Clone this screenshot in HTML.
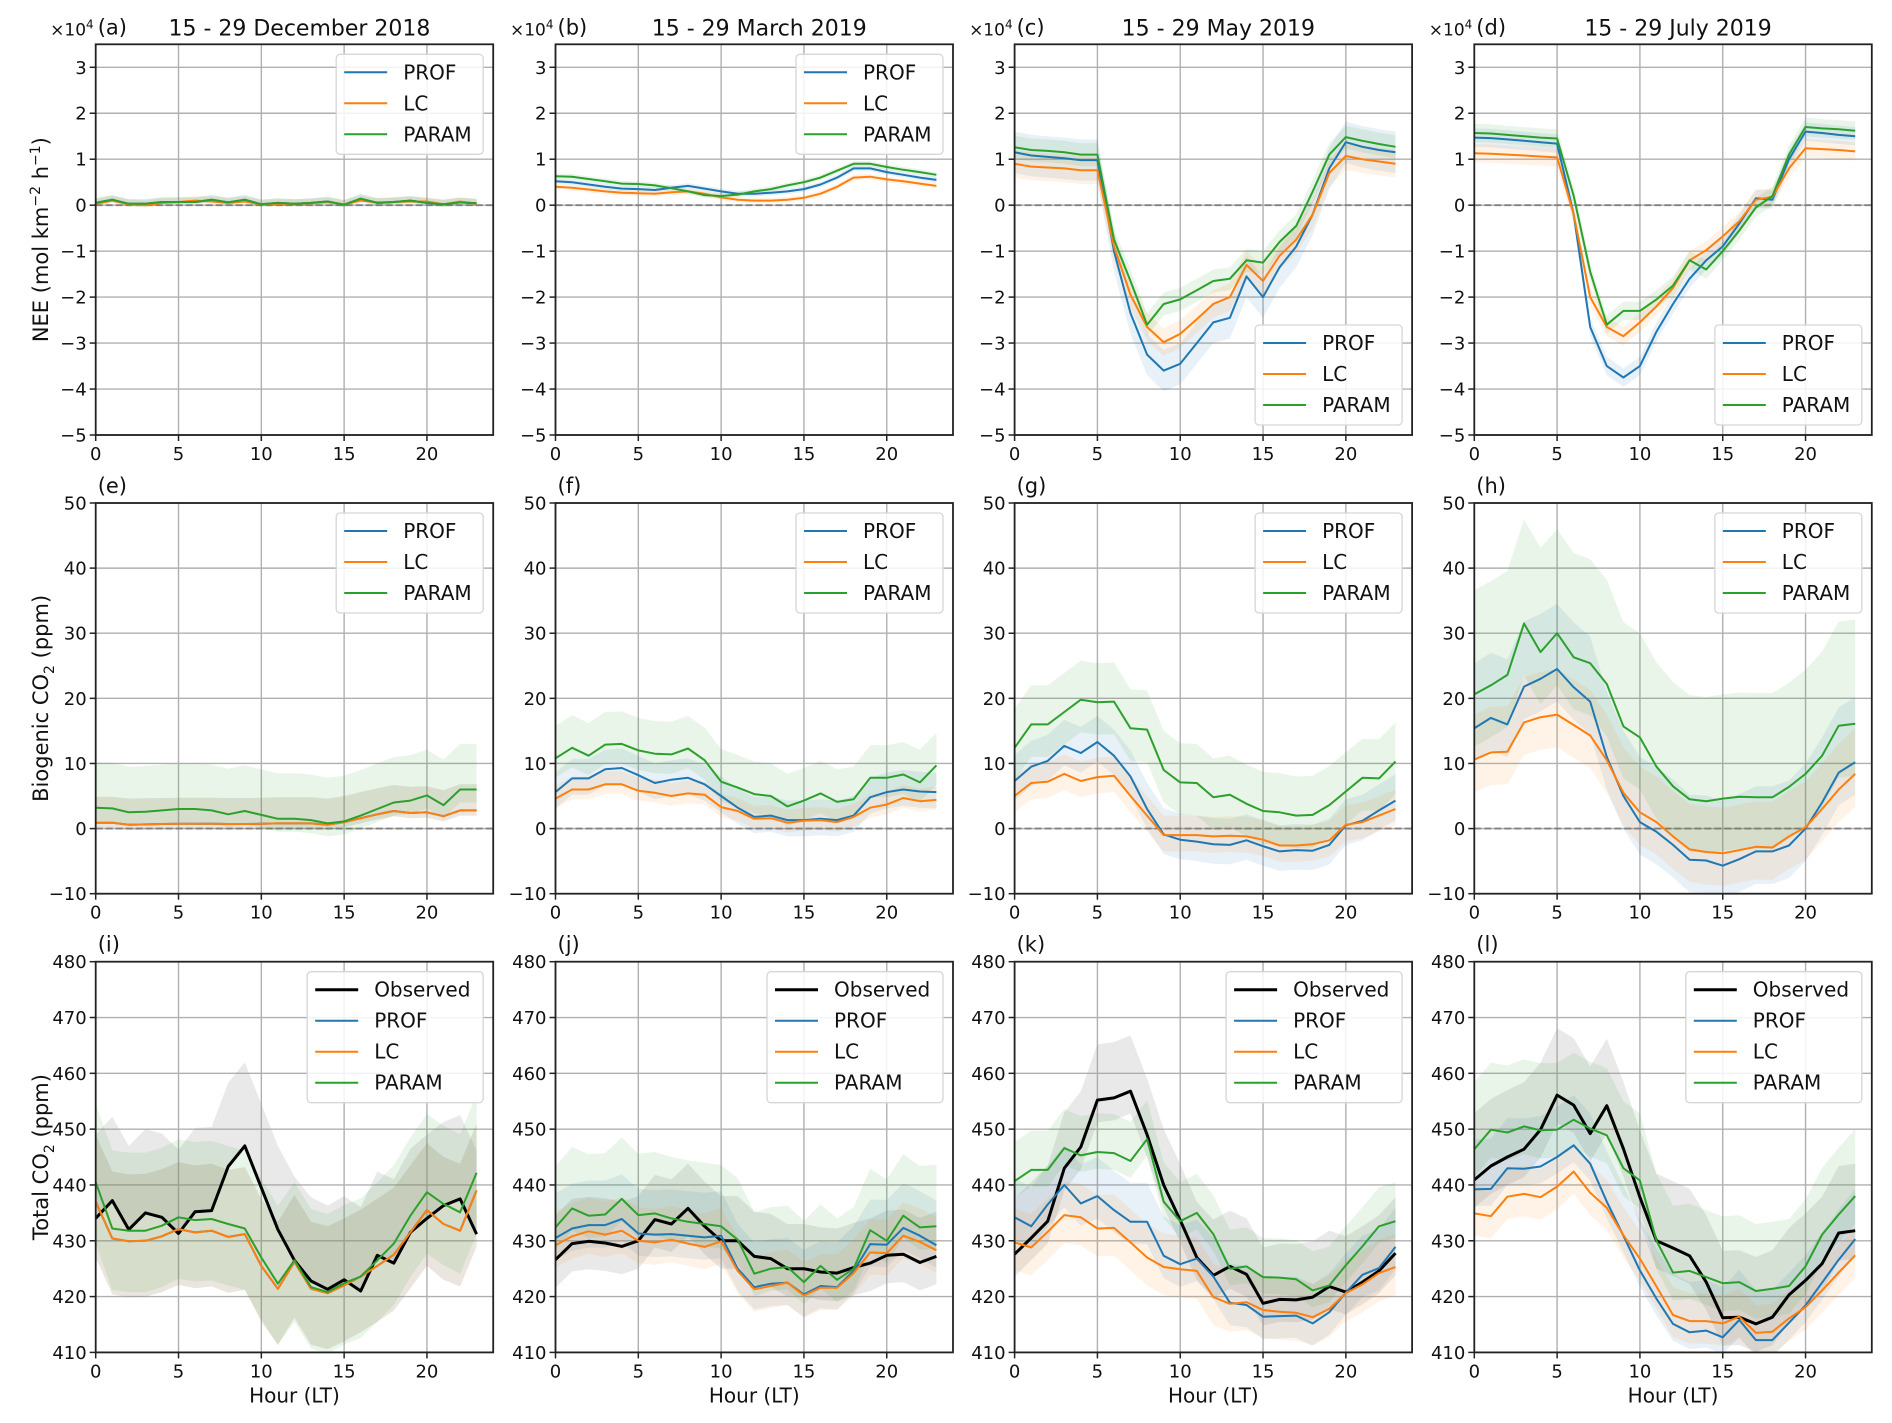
<!DOCTYPE html>
<html><head><meta charset="utf-8"><title>NEE and CO2 diurnal cycles</title>
<style>
html,body{margin:0;padding:0;background:#fff;}
svg{display:block;font-family:"DejaVu Sans","Liberation Sans",sans-serif;}
</style></head>
<body>
<svg id="fig" width="1892" height="1423" viewBox="0 0 1892 1423" xmlns="http://www.w3.org/2000/svg"></svg>
<script>
// ---------- DATA ----------
const hours = [0,1,2,3,4,5,6,7,8,9,10,11,12,13,14,15,16,17,18,19,20,21,22,23];
const panelLabels = ['(a)','(b)','(c)','(d)','(e)','(f)','(g)','(h)','(i)','(j)','(k)','(l)'];
const periodTitles = ['15 - 29 December 2018','15 - 29 March 2019','15 - 29 May 2019','15 - 29 July 2019'];
const seriesNames = ['Observed','PROF','LC','PARAM'];
const neeTicks = [3,2,1,0,-1,-2,-3,-4,-5];
const bioTicks = [50,40,30,20,10,0,-10];
const totTicks = [480,470,460,450,440,430,420,410];
const xTicks = [0,5,10,15,20];

// Row 1: NEE (x10^4 mol km-2 h-1)
const neeA_PROF  = [0.05,0.12,0.03,0.03,0.07,0.07,0.07,0.12,0.06,0.12,0.02,0.05,0.03,0.05,0.08,0.01,0.14,0.05,0.07,0.1,0.05,0.02,0.06,0.04];
const neeA_LC    = [0.03,0.1,0.02,0,0.05,0.07,0.1,0.08,0.05,0.08,0.02,0.03,0.03,0.04,0.07,0.02,0.1,0.06,0.07,0.08,0.08,0.02,0.08,0.03];
const neeA_PARAM = [0.05,0.12,0.03,0.03,0.07,0.07,0.07,0.12,0.06,0.12,0.02,0.05,0.03,0.05,0.08,0.01,0.14,0.05,0.07,0.1,0.05,0.02,0.06,0.04];
const neeB_PROF  = [0.52,0.5,0.45,0.4,0.36,0.35,0.33,0.38,0.42,0.36,0.3,0.25,0.25,0.27,0.3,0.35,0.45,0.6,0.8,0.8,0.72,0.66,0.6,0.55];
const neeB_LC    = [0.4,0.38,0.34,0.3,0.27,0.26,0.25,0.28,0.3,0.25,0.17,0.12,0.1,0.1,0.12,0.16,0.25,0.4,0.6,0.62,0.56,0.52,0.47,0.42];
const neeB_PARAM = [0.63,0.62,0.57,0.52,0.47,0.46,0.43,0.37,0.3,0.22,0.2,0.23,0.3,0.35,0.43,0.5,0.6,0.75,0.9,0.9,0.83,0.77,0.72,0.66];
const neeC_PROF  = [1.15,1.08,1.05,1.02,0.98,0.98,-1.0,-2.35,-3.25,-3.6,-3.45,-3.0,-2.55,-2.45,-1.55,-2.0,-1.35,-0.9,-0.2,0.8,1.37,1.27,1.2,1.15];
const neeC_LC    = [0.9,0.84,0.82,0.8,0.76,0.76,-0.9,-1.95,-2.65,-2.98,-2.8,-2.48,-2.15,-2.0,-1.3,-1.65,-1.1,-0.75,-0.2,0.7,1.07,1.0,0.95,0.9];
const neeC_PARAM = [1.26,1.2,1.18,1.15,1.1,1.1,-0.75,-1.65,-2.6,-2.15,-2.05,-1.85,-1.65,-1.6,-1.2,-1.25,-0.8,-0.45,0.3,1.1,1.48,1.4,1.33,1.27];
const neeD_PROF  = [1.47,1.46,1.43,1.4,1.37,1.34,-0.2,-2.65,-3.5,-3.75,-3.5,-2.75,-2.15,-1.6,-1.2,-0.9,-0.4,0.15,0.12,1.0,1.6,1.57,1.53,1.5];
const neeD_LC    = [1.13,1.12,1.1,1.08,1.06,1.04,-0.2,-2.0,-2.65,-2.85,-2.55,-2.2,-1.8,-1.2,-0.98,-0.68,-0.35,0.12,0.18,0.8,1.24,1.22,1.2,1.17];
const neeD_PARAM = [1.57,1.56,1.53,1.5,1.47,1.45,0.2,-1.45,-2.6,-2.3,-2.3,-2.05,-1.75,-1.2,-1.4,-1.0,-0.55,-0.05,0.2,1.1,1.7,1.67,1.65,1.62];

// Row 2: biogenic CO2 (ppm)
const bioE_PROF  = [0.9,0.9,0.6,0.65,0.7,0.75,0.75,0.75,0.7,0.7,0.75,0.8,0.8,0.8,0.6,1.0,1.6,2.2,2.7,2.4,2.5,1.9,2.8,2.8];
const bioE_LC    = [0.9,0.9,0.6,0.65,0.7,0.75,0.75,0.75,0.7,0.7,0.75,0.8,0.8,0.8,0.6,1.0,1.6,2.2,2.7,2.4,2.5,1.9,2.8,2.8];
const bioE_PARAM = [3.2,3.1,2.5,2.6,2.8,3.0,3.0,2.8,2.2,2.7,2.1,1.5,1.5,1.3,0.8,1.1,2.0,3.0,4.0,4.3,5.1,3.6,6.0,6.0];
const bioF_PROF  = [5.6,7.7,7.7,9.1,9.3,8.2,7.0,7.5,7.8,6.8,5.0,3.2,1.8,2.0,1.3,1.3,1.5,1.3,2.0,4.8,5.6,6.0,5.7,5.6];
const bioF_LC    = [4.6,6.0,6.0,6.8,6.8,5.8,5.5,5.0,5.4,5.2,3.3,2.7,1.5,1.6,0.9,1.2,1.3,1.0,1.8,3.2,3.7,4.7,4.2,4.4];
const bioF_PARAM = [10.8,12.4,11.2,12.9,13.0,12.0,11.5,11.4,12.3,10.5,7.2,6.3,5.3,5.0,3.4,4.3,5.4,4.1,4.5,7.8,7.8,8.3,7.1,9.7];
const bioG_PROF  = [7.3,9.5,10.4,12.7,11.6,13.3,11.2,8.0,3.0,-0.9,-1.7,-2.0,-2.4,-2.5,-1.8,-2.7,-3.5,-3.3,-3.4,-2.5,0.5,1.2,2.8,4.3];
const bioG_LC    = [5.0,7.0,7.2,8.4,7.3,7.9,8.1,5.0,2.0,-1.0,-1.0,-1.0,-1.2,-1.1,-1.2,-1.7,-2.6,-2.6,-2.4,-1.8,0.6,1.0,2.0,3.0];
const bioG_PARAM = [12.4,16.0,16.0,17.9,19.8,19.4,19.5,15.4,15.2,9.0,7.1,7.0,4.8,5.2,3.8,2.7,2.5,2.0,2.1,3.6,5.7,7.8,7.7,10.3];
const bioH_PROF  = [15.4,17.0,16.0,21.8,23.0,24.5,21.7,19.5,11.0,5.0,1.0,-0.5,-2.5,-4.8,-4.9,-5.7,-4.7,-3.5,-3.5,-2.6,0.0,4.0,8.6,10.2];
const bioH_LC    = [10.6,11.7,11.8,16.3,17.1,17.5,15.9,14.3,10.5,5.5,2.5,1.0,-1.2,-3.2,-3.6,-3.8,-3.3,-2.8,-2.9,-1.2,0.2,3.0,6.0,8.4];
const bioH_PARAM = [20.6,22.0,23.6,31.5,27.1,30.0,26.3,25.4,22.2,15.7,14.0,9.5,6.5,4.5,4.2,4.6,4.9,4.8,4.8,6.4,8.4,11.2,15.8,16.1];

// Row 3: total CO2 (ppm)
const totI_OBS   = [434,437.2,432,435,434.2,431.3,435.2,435.4,443.3,447,439.5,432,426.5,422.8,421.3,423,421,427.4,426,431.5,434,436.3,437.5,431.2];
const totI_PROF  = [437,430.4,429.9,430,430.8,432.1,431.5,431.8,430.7,431.2,425.5,421.4,426.2,421.4,420.6,422,423.6,425.5,427.5,431.5,435.5,433,431.8,439];
const totI_LC    = [437,430.4,429.9,430,430.8,432.1,431.5,431.8,430.7,431.2,425.5,421.4,426.2,421.4,420.6,422,423.6,425.5,427.5,431.5,435.5,433,431.8,439];
const totI_PARAM = [440.5,432.2,431.8,431.8,432.7,434.2,433.7,433.9,433,432.2,427,422.3,426.5,421.7,420.8,422.4,423.6,426.5,429.5,434.5,438.7,436.6,435.1,442.2];
const totJ_OBS   = [426.6,429.5,429.9,429.6,429,430,433.8,433,435.8,432.6,430,430,427.2,426.8,425,425,424.4,424.2,425.2,426,427.4,427.6,426.1,427.2];
const totJ_PROF  = [430.5,432.2,432.8,432.8,433.9,431.3,431.1,431.2,430.9,430.6,430.9,425,421.7,422.3,422.5,420.4,421.9,421.7,424.6,429.4,429.3,432.3,430.9,429.2];
const totJ_LC    = [429.2,430.8,431.7,431.1,431.8,430,429.7,430.2,429.5,428.9,429.9,424.6,421.3,421.9,422.5,420.2,421.6,421.6,424.2,427.9,427.8,430.9,429.8,428.3];
const totJ_PARAM = [432.4,435.8,434.5,434.7,437.5,434.6,434.9,434,433.4,433,432.6,430.2,424.1,425,425.3,422.6,425.5,423,425,431.9,430,434.5,432.4,432.6];
const totK_OBS   = [427.6,430.5,433.5,443,446.8,455.2,455.6,456.8,449,440,433.7,427,423.8,425.4,424,418.8,419.5,419.4,419.9,421.8,420.8,422.6,424.6,427.8];
const totK_PROF  = [434.2,432.6,436.5,440,436.7,438,435.5,433.4,433.4,427.3,425.8,426.8,423.6,418.9,418.5,416.4,416.5,416.6,415.2,417.2,420.7,423.9,425.1,428.9];
const totK_LC    = [429.7,428.8,431.6,434.6,434.2,432.2,432.3,429.7,427,425.3,424.9,424.6,419.9,418.7,419,417.6,417.3,417.1,416.3,417.8,420.6,422.2,424.2,425.3];
const totK_PARAM = [440.7,442.7,442.7,446.6,445.3,445.9,445.7,444.3,448.2,437,433.5,435,431.2,425,425.4,423.5,423.4,423.1,421.1,422,425.6,429,432.6,433.5];
const totL_OBS   = [440.9,443.4,445,446.4,449.9,456.1,454.3,449.2,454.2,446.5,437.8,430,428.7,427.3,422.6,416.2,416.3,415.1,416.3,420.3,422.9,425.9,431.4,431.8];
const totL_PROF  = [439.2,439.3,443,442.9,443.3,445,447.1,443.8,437,430.9,424.7,419.6,415.1,413.6,413.9,412.7,415.8,412.2,412.2,415.3,418.4,422.5,426.6,430.3];
const totL_LC    = [434.9,434.4,437.9,438.4,437.8,439.7,442.4,438.6,435.9,431,426.8,421.8,416.7,415.6,415.6,415.2,416.4,413.5,413.7,416.1,418.1,421.1,424.3,427.4];
const totL_PARAM = [446.4,449.9,449.4,450.5,449.8,449.9,451.7,450.1,448.9,443,440.8,430,424.3,424.6,423.5,422.4,422.6,421,421.4,421.9,425.4,431.1,434.7,438];

// Band half-widths per panel: [Observed, PROF, LC, PARAM] (lower, upper)
const spreadLoA = [0,0.05,0.05,0.05], spreadHiA = [0,0.1,0.1,0.1];
const spreadLoB = [0,0.06,0.06,0.06], spreadHiB = [0,0.06,0.06,0.06];
const spreadLoC = [0,0.45,0.3,0.25], spreadHiC = [0,0.45,0.3,0.25];
const spreadLoD = [0,0.2,0.2,0.2], spreadHiD = [0,0.2,0.2,0.2];
const spreadLoE = [0,0.8,0.8,2], spreadHiE = [0,4,4,7];
const spreadLoF = [0,2.5,1.5,3], spreadHiF = [0,3,2,5];
const spreadLoG = [0,3,2.5,5], spreadHiG = [0,4,3,6];
const spreadLoH = [0,5,5,8], spreadHiH = [0,10,7,16];
const spreadLoI = [0,10,10,11], spreadHiI = [15,12,12,14];
const spreadLoJ = [5,4,4,4], spreadHiJ = [8,8,6,11];
const spreadLoK = [4,4,5,3], spreadHiK = [10,7,6,7];
const spreadLoL = [5,3,4,5], spreadHiL = [12,9,5,12];

// ---------- LAYOUT ----------
const svg = document.getElementById('fig');
const NS = 'http://www.w3.org/2000/svg';
const colLeft = [95.7,555.5,1014.6,1474.3];
const rowTop = [44.3,503,961.7];
const PW = 397.5, PH = 390.7;
const COLORS = {Observed:'#000000',PROF:'#1f77b4',LC:'#ff7f0e',PARAM:'#2ca02c'};

function el(tag, attrs, parent){
  const e = document.createElementNS(NS, tag);
  for (const k in attrs) e.setAttribute(k, attrs[k]);
  (parent||svg).appendChild(e);
  return e;
}

const panels = [
  {row:0,col:0,series:{PROF:neeA_PROF,LC:neeA_LC,PARAM:neeA_PARAM},lo:spreadLoA,hi:spreadHiA,legend:'tr'},
  {row:0,col:1,series:{PROF:neeB_PROF,LC:neeB_LC,PARAM:neeB_PARAM},lo:spreadLoB,hi:spreadHiB,legend:'tr'},
  {row:0,col:2,series:{PROF:neeC_PROF,LC:neeC_LC,PARAM:neeC_PARAM},lo:spreadLoC,hi:spreadHiC,legend:'br'},
  {row:0,col:3,series:{PROF:neeD_PROF,LC:neeD_LC,PARAM:neeD_PARAM},lo:spreadLoD,hi:spreadHiD,legend:'br'},
  {row:1,col:0,series:{PROF:bioE_PROF,LC:bioE_LC,PARAM:bioE_PARAM},lo:spreadLoE,hi:spreadHiE,legend:'tr'},
  {row:1,col:1,series:{PROF:bioF_PROF,LC:bioF_LC,PARAM:bioF_PARAM},lo:spreadLoF,hi:spreadHiF,legend:'tr'},
  {row:1,col:2,series:{PROF:bioG_PROF,LC:bioG_LC,PARAM:bioG_PARAM},lo:spreadLoG,hi:spreadHiG,legend:'tr'},
  {row:1,col:3,series:{PROF:bioH_PROF,LC:bioH_LC,PARAM:bioH_PARAM},lo:spreadLoH,hi:spreadHiH,legend:'tr'},
  {row:2,col:0,series:{Observed:totI_OBS,PROF:totI_PROF,LC:totI_LC,PARAM:totI_PARAM},lo:spreadLoI,hi:spreadHiI,legend:'tr'},
  {row:2,col:1,series:{Observed:totJ_OBS,PROF:totJ_PROF,LC:totJ_LC,PARAM:totJ_PARAM},lo:spreadLoJ,hi:spreadHiJ,legend:'tr'},
  {row:2,col:2,series:{Observed:totK_OBS,PROF:totK_PROF,LC:totK_LC,PARAM:totK_PARAM},lo:spreadLoK,hi:spreadHiK,legend:'tr'},
  {row:2,col:3,series:{Observed:totL_OBS,PROF:totL_PROF,LC:totL_LC,PARAM:totL_PARAM},lo:spreadLoL,hi:spreadHiL,legend:'tr'}
];
const rowY = [{min:-5,max:3.5,ticks:neeTicks},{min:-10,max:50,ticks:bioTicks},{min:410,max:480,ticks:totTicks}];

panels.forEach((p,i)=>{
  const x0 = colLeft[p.col], y0 = rowTop[p.row];
  const yr = rowY[p.row];
  const xs = h => x0 + h/24*PW;
  const ys = v => y0 + (yr.max - v)/(yr.max-yr.min)*PH;
  const g = el('g',{});
  
  

  xTicks.forEach(t=>{
    const l = el('line',{x1:xs(t),x2:xs(t),y1:y0,y2:y0+PH,stroke:'#b0b0b0','stroke-width':1.4},g);
    
    
  });
  yr.ticks.forEach(t=>{
    const l = el('line',{x1:x0,x2:x0+PW,y1:ys(t),y2:ys(t),stroke:'#b0b0b0','stroke-width':1.4},g);
    
    
  });
  if (p.row<2){
    const z = el('line',{x1:x0,x2:x0+PW,y1:ys(0),y2:ys(0),stroke:'#808080','stroke-width':1.8,'stroke-dasharray':'7,3'},g);
    
    
  }

  const cid = 'clip'+i;
  const cp = el('clipPath',{id:cid},g);
  el('rect',{x:x0,y:y0,width:PW,height:PH},cp);
  const plot = el('g',{'clip-path':'url(#'+cid+')'},g);

  const names = seriesNames.filter(n=>p.series[n]);
  names.forEach(n=>{
    const s = p.series[n], idx = seriesNames.indexOf(n);
    const lo = p.lo[idx], hi = p.hi[idx];
    let d = '';
    hours.forEach((h,k)=>{ d += (k?'L':'M')+xs(h).toFixed(1)+','+ys(s[k]+hi).toFixed(1); });
    for (let k=hours.length-1;k>=0;k--) d += 'L'+xs(hours[k]).toFixed(1)+','+ys(s[k]-lo).toFixed(1);
    d += 'Z';
    const band = el('path',{d:d,fill:n==='Observed'?'#999999':COLORS[n],'fill-opacity':n==='Observed'?0.22:0.1,stroke:'none'},plot);
    
    
  });
  names.forEach(n=>{
    const s = p.series[n];
    const pts = hours.map((h,k)=>xs(h).toFixed(1)+','+ys(s[k]).toFixed(1)).join(' ');
    const line = el('polyline',{points:pts,fill:'none',stroke:COLORS[n],'stroke-width':n==='Observed'?3:2,'stroke-linejoin':'round'},plot);
    
    
  });

  const fr = el('rect',{x:x0,y:y0,width:PW,height:PH,fill:'none',stroke:'#222','stroke-width':1.8},g);
  
  

  xTicks.forEach(t=>{
    el('line',{x1:xs(t),x2:xs(t),y1:y0+PH,y2:y0+PH+6,stroke:'#222','stroke-width':1.5},g);
    const tx = el('text',{x:xs(t),y:y0+PH+25,'font-size':18,'text-anchor':'middle',fill:'#111'},g);
    tx.textContent = t;
    
    
  });
  yr.ticks.forEach(t=>{
    el('line',{x1:x0-6,x2:x0,y1:ys(t),y2:ys(t),stroke:'#222','stroke-width':1.5},g);
    const tx = el('text',{x:x0-9,y:ys(t)+6.5,'font-size':18,'text-anchor':'end',fill:'#111'},g);
    tx.textContent = (t<0?'\u2212'+Math.abs(t):String(t));
    
    
  });

  const lab = el('text',{x:x0+2,y:y0-10,'font-size':21,fill:'#111'},g);
  lab.textContent = panelLabels[i];
  
  
  if (p.row===0){
    const ti = el('text',{x:x0+PW/2+5,y:y0-9,'font-size':22,'text-anchor':'middle',fill:'#111'},g);
    ti.textContent = periodTitles[p.col];
    
    
    const ex = el('text',{x:x0-2,y:y0-9,'font-size':17,'text-anchor':'end',fill:'#111'},g);
    ex.innerHTML = '\u00d710<tspan dy="-7" font-size="12">4</tspan>';
    
    
  } else if (p.row===2){
    const xl = el('text',{x:x0+PW/2,y:y0+PH+50,'font-size':20,'text-anchor':'middle',fill:'#111'},g);
    xl.textContent = 'Hour (LT)';
    
    
  }

  const lw = p.row===2?176:147, lh = p.row===2?131:100;
  const lx = x0+PW-10-lw;
  const ly = p.legend==='tr' ? y0+10 : y0+PH-10-lh;
  const lg = el('g',{},g);
  
  
  el('rect',{x:lx,y:ly,width:lw,height:lh,rx:4,fill:'#fff','fill-opacity':0.85,stroke:'#d6d6d6','stroke-width':1.3},lg);
  names.forEach((n,k)=>{
    const cy = ly+18+k*31;
    const ent = el('g',{},lg);
    
    
    el('line',{x1:lx+8,x2:lx+51,y1:cy,y2:cy,stroke:COLORS[n],'stroke-width':n==='Observed'?3:2},ent);
    const t = el('text',{x:lx+67,y:cy+7,'font-size':20,fill:'#111'},ent);
    t.textContent = n;
  });
});

const yTitles = [
  {y:rowTop[0]+PH/2, html:'NEE (mol km<tspan dy="-8" font-size="14">\u22122</tspan><tspan dy="8"> h</tspan><tspan dy="-8" font-size="14">\u22121</tspan><tspan dy="8">)</tspan>', name:'y-axis-title-nee'},
  {y:rowTop[1]+PH/2, html:'Biogenic CO<tspan dy="6" font-size="14">2</tspan><tspan dy="-6"> (ppm)</tspan>', name:'y-axis-title-biogenic'},
  {y:rowTop[2]+PH/2, html:'Total CO<tspan dy="6" font-size="14">2</tspan><tspan dy="-6"> (ppm)</tspan>', name:'y-axis-title-total'}
];
yTitles.forEach(o=>{
  const t = el('text',{x:0,y:0,'font-size':21,'text-anchor':'middle',fill:'#111',transform:'translate(48,'+o.y+') rotate(-90)'});
  t.innerHTML = o.html;
  
  
});
</script>
</body></html>
